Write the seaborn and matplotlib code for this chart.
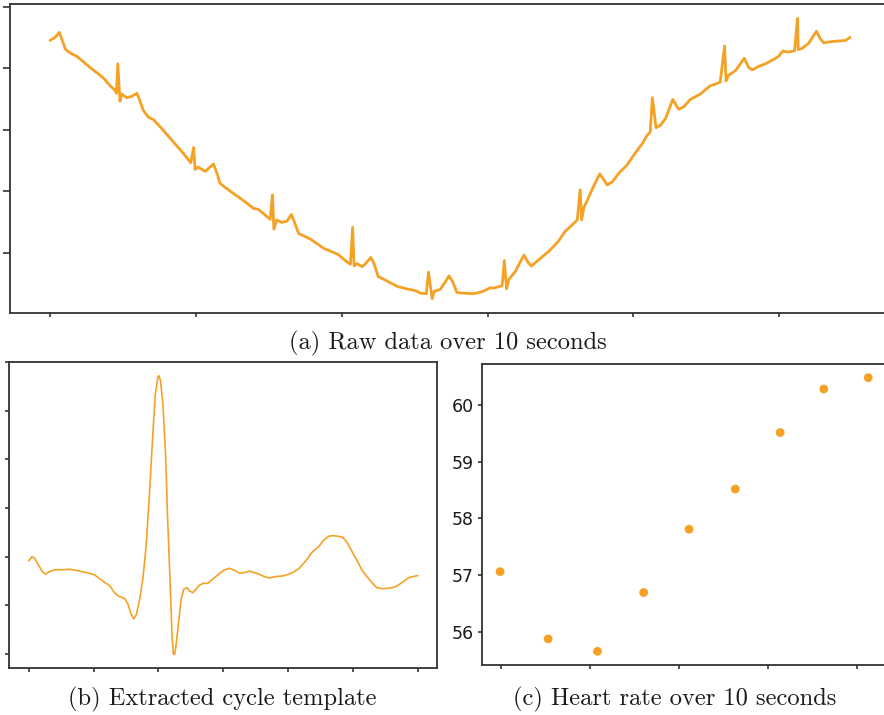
import numpy as np
import pandas as pd
import matplotlib
matplotlib.use("Agg")
import matplotlib.pyplot as plt
from matplotlib.ticker import MultipleLocator, NullFormatter
import seaborn as sns

ORANGE = "#f5a125"

# (a) raw signal: time [s], amplitude [a.u.]
raw_t = [0.00, 0.07, 0.13, 0.16, 0.21, 0.27, 0.37, 0.46, 0.57, 0.66, 0.74, 0.82, 0.89, 0.91,
         0.93, 0.96, 0.98, 1.05, 1.12, 1.19, 1.23, 1.28, 1.35, 1.42, 1.53, 1.69, 1.81, 1.93,
         1.97, 1.99, 2.03, 2.13, 2.24, 2.29, 2.33, 2.40, 2.54, 2.67, 2.79, 2.86, 2.95, 3.02,
         3.05, 3.07, 3.11, 3.18, 3.25, 3.31, 3.35, 3.41, 3.50, 3.57, 3.75, 3.95, 4.07, 4.12,
         4.15, 4.17, 4.21, 4.28, 4.32, 4.40, 4.44, 4.50, 4.60, 4.76, 4.89, 5.01, 5.08, 5.16,
         5.19, 5.24, 5.27, 5.35, 5.42, 5.47, 5.52, 5.58, 5.67, 5.81, 5.92, 6.01, 6.04, 6.08,
         6.20, 6.23, 6.26, 6.29, 6.38, 6.45, 6.50, 6.55, 6.60, 6.70, 6.84, 6.97, 7.06, 7.16,
         7.23, 7.27, 7.29, 7.32, 7.38, 7.45, 7.54, 7.64, 7.71, 7.80, 7.91, 8.02, 8.12, 8.19,
         8.23, 8.26, 8.31, 8.37, 8.44, 8.54, 8.62, 8.69, 8.78, 8.92, 9.05, 9.19, 9.25, 9.27,
         9.30, 9.40, 9.52, 9.58, 9.63, 9.72, 9.81, 9.92, 9.99, 10.05, 10.11, 10.21, 10.25, 10.26,
         10.31, 10.40, 10.51, 10.56, 10.61, 10.70, 10.81, 10.91, 10.97]
raw_v = [4.45, 4.50, 4.58, 4.48, 4.31, 4.25, 4.19, 4.10, 3.99, 3.91, 3.83, 3.72, 3.64, 3.59,
         4.07, 3.46, 3.58, 3.52, 3.54, 3.59, 3.48, 3.31, 3.20, 3.16, 3.02, 2.80, 2.64, 2.46,
         2.71, 2.35, 2.39, 2.32, 2.44, 2.29, 2.13, 2.06, 1.94, 1.83, 1.72, 1.70, 1.61, 1.54,
         1.94, 1.38, 1.53, 1.49, 1.51, 1.62, 1.50, 1.31, 1.26, 1.22, 1.07, 0.97, 0.85, 0.81,
         1.41, 0.78, 0.82, 0.77, 0.81, 0.92, 0.83, 0.61, 0.55, 0.45, 0.41, 0.38, 0.34, 0.33,
         0.68, 0.25, 0.37, 0.40, 0.52, 0.62, 0.53, 0.35, 0.34, 0.33, 0.36, 0.41, 0.43, 0.42,
         0.46, 0.87, 0.41, 0.56, 0.69, 0.85, 0.96, 0.85, 0.78, 0.88, 1.02, 1.18, 1.34, 1.45,
         1.53, 2.02, 1.53, 1.73, 1.88, 2.07, 2.28, 2.10, 2.15, 2.29, 2.42, 2.61, 2.77, 2.91,
         2.96, 3.52, 3.03, 3.07, 3.18, 3.49, 3.33, 3.37, 3.49, 3.58, 3.71, 3.77, 4.36, 3.79,
         3.88, 3.96, 4.16, 4.01, 3.97, 4.03, 4.07, 4.14, 4.19, 4.28, 4.26, 4.28, 4.81, 4.30,
         4.32, 4.40, 4.60, 4.48, 4.41, 4.43, 4.44, 4.45, 4.50]

# (b) extracted cycle template: sample index, amplitude [a.u.]
tpl_x = [0, 5, 9, 14, 21, 26, 32, 40, 53, 63, 76, 89, 101, 109, 117, 125, 132, 139, 148, 153,
         158, 162, 166, 171, 176, 181, 186, 191, 195, 199, 200.5, 203, 207, 211, 214, 218, 221,
         223, 225, 227, 231, 235, 239, 244, 248, 253, 258, 263, 269, 276, 284, 294, 301, 309,
         317, 325, 332, 340, 348, 355, 363, 371, 381, 391, 399, 407, 417, 427, 437, 448, 455,
         463, 468, 476, 484, 491, 499, 507, 514, 522, 530, 537, 545, 555, 566, 576, 586, 600]
tpl_v = [1.91, 2.00, 1.97, 1.85, 1.69, 1.64, 1.69, 1.73, 1.73, 1.74, 1.71, 1.67, 1.63, 1.55,
         1.47, 1.40, 1.26, 1.18, 1.14, 1.02, 0.81, 0.72, 0.81, 1.12, 1.54, 2.22, 3.26, 4.43,
         5.32, 5.68, 5.72, 5.63, 5.12, 4.08, 2.84, 1.47, 0.37, 0.00, -0.01, 0.16, 0.64, 1.12,
         1.33, 1.36, 1.29, 1.26, 1.33, 1.41, 1.45, 1.45, 1.54, 1.65, 1.72, 1.76, 1.72, 1.66,
         1.67, 1.70, 1.67, 1.64, 1.59, 1.56, 1.59, 1.60, 1.63, 1.67, 1.76, 1.91, 2.09, 2.22,
         2.34, 2.42, 2.43, 2.42, 2.40, 2.29, 2.09, 1.90, 1.72, 1.58, 1.45, 1.36, 1.34, 1.35,
         1.38, 1.47, 1.57, 1.61]

# (c) heart rate per beat interval
hr_t = [-0.02, 1.06, 2.17, 3.21, 4.23, 5.27, 6.28, 7.26, 8.26]
hr_bpm = [57.06, 55.87, 55.65, 56.69, 57.81, 58.52, 59.52, 60.29, 60.49]

raw_df = pd.DataFrame({"t": raw_t, "v": raw_v})
tpl_df = pd.DataFrame({"x": tpl_x, "v": tpl_v})
hr_df = pd.DataFrame({"t": hr_t, "bpm": hr_bpm})

sns.set_style("ticks")
plt.rcParams["axes.edgecolor"] = "#333333"
plt.rcParams["axes.linewidth"] = 1.3

fig = plt.figure(figsize=(8.84, 7.15), dpi=100)
ax_a = fig.add_axes([0.0113, 0.5627, 0.9955, 0.4313])
ax_b = fig.add_axes([0.0105, 0.0653, 0.4842, 0.4288])
ax_c = fig.add_axes([0.5449, 0.0699, 0.4581, 0.4210])

sns.lineplot(data=raw_df, x="t", y="v", ax=ax_a, color=ORANGE, linewidth=2.0,
             sort=False, estimator=None)
sns.lineplot(data=tpl_df, x="x", y="v", ax=ax_b, color=ORANGE, linewidth=1.2,
             sort=False, estimator=None)
sns.scatterplot(data=hr_df, x="t", y="bpm", ax=ax_c, color=ORANGE, s=40,
                edgecolor="none")

ax_a.xaxis.set_major_locator(MultipleLocator(2))
ax_a.yaxis.set_major_locator(MultipleLocator(1))
ax_b.xaxis.set_major_locator(MultipleLocator(100))
ax_b.yaxis.set_major_locator(MultipleLocator(1))
ax_c.xaxis.set_major_locator(MultipleLocator(2))
ax_c.yaxis.set_major_locator(MultipleLocator(1))

for ax in (ax_a, ax_b, ax_c):
    ax.set_xlabel("")
    ax.set_ylabel("")
    ax.xaxis.set_major_formatter(NullFormatter())
    ax.tick_params(length=3.2, width=1.2, color="#333333")
ax_a.tick_params(axis="y", length=5)
ax_b.yaxis.set_major_formatter(NullFormatter())
ax_a.yaxis.set_major_formatter(NullFormatter())
ax_c.tick_params(axis="y", labelsize=12.5, labelcolor="#1a1a1a", pad=2.5)

cap = dict(family="cmr10", fontsize=17.6, ha="center", va="center", color="#1a1a1a")
fig.text(448 / 884, 1 - 343 / 715, "(a) Raw data over 10 seconds", **cap)
fig.text(222 / 884, 1 - 699 / 715, "(b) Extracted cycle template", **cap)
fig.text(675 / 884, 1 - 699 / 715, "(c) Heart rate over 10 seconds", **cap)

fig.savefig("out.png", dpi=100)
plt.close(fig)
